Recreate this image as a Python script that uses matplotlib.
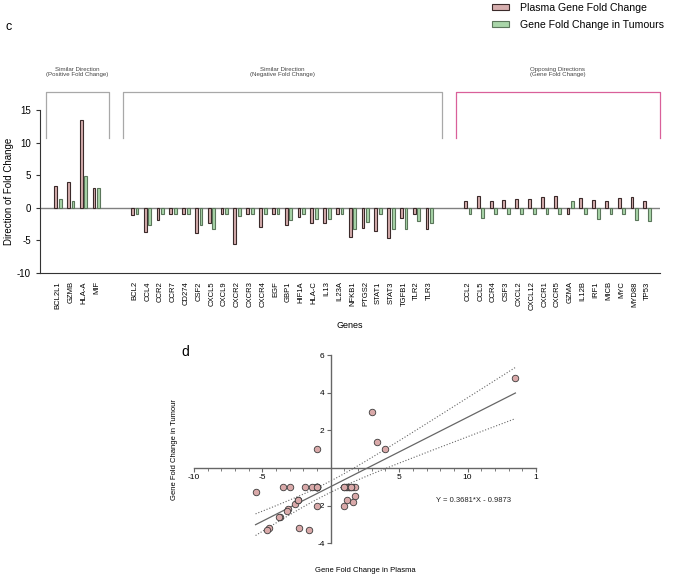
import numpy as np
import matplotlib
matplotlib.use('Agg')
import matplotlib.pyplot as plt

plt.rcParams['font.family'] = ['Liberation Sans', 'DejaVu Sans']
plt.rcParams['axes.unicode_minus'] = False

# Genes in each group
genes_pos = ['BCL2L1', 'GZMB', 'HLA-A', 'MIF']
genes_neg = ['BCL2', 'CCL4', 'CCR2', 'CCR7', 'CD274', 'CSF2', 'CXCL5', 'CXCL9',
             'CXCR2', 'CXCR3', 'CXCR4', 'EGF', 'GBP1', 'HIF1A', 'HLA-C', 'IL13',
             'IL23A', 'NFKB1', 'PTGS2', 'STAT1', 'STAT3', 'TGFB1', 'TLR2', 'TLR3']
genes_opp = ['CCL2', 'CCL5', 'CCR4', 'CSF3', 'CXCL2', 'CXCL12', 'CXCR1', 'CXCR5',
             'GZMA', 'IL12B', 'IRF1', 'MICB', 'MYC', 'MYD88', 'TP53']

# Fold changes (plasma / tumour)
plasma_pos = [3.4, 4.0, 13.5, 3.0]
tumour_pos = [1.4, 1.0, 4.8, 3.0]
plasma_neg = [-1.1, -3.7, -1.9, -1.0, -1.0, -3.8, -2.3, -1.0, -5.5, -1.0, -3.0, -1.0,
              -2.6, -1.4, -2.4, -2.4, -1.0, -4.5, -3.1, -3.5, -4.7, -1.6, -1.0, -3.2]
tumour_neg = [-1.0, -2.6, -1.0, -1.0, -1.0, -2.6, -3.2, -1.0, -1.3, -1.0, -1.0, -1.0,
              -1.9, -1.0, -1.7, -1.7, -1.0, -3.2, -2.2, -1.0, -3.3, -3.3, -2.0, -2.3]
plasma_opp = [1.1, 1.8, 1.0, 1.2, 1.3, 1.3, 1.6, 1.75, -1.0, 1.5, 1.2, 1.0, 1.5, 1.6, 1.0]
tumour_opp = [-1.0, -1.5, -1.0, -1.0, -1.0, -1.0, -1.0, -1.0, 1.0, -1.0, -1.7, -1.0,
              -1.0, -1.8, -2.0]

group_titles = ['Similar Direction\n(Positive Fold Change)',
                'Similar Direction\n(Negative Fold Change)',
                'Opposing Directions\n(Gene Fold Change)']

# regression reported on the figure
slope = 0.3681
intercept = -0.9873

pink = '#d6aeae'
pink_edge = '#3b2a2a'
green = '#a9d6a9'
green_edge = '#5b765b'

# x positions with gaps between groups
gap = 3
x_pos = np.arange(len(genes_pos))
x_neg = x_pos[-1] + gap + np.arange(len(genes_neg))
x_opp = x_neg[-1] + gap + np.arange(len(genes_opp))
xs = np.concatenate([x_pos, x_neg, x_opp])
genes = genes_pos + genes_neg + genes_opp
plasma = np.array(plasma_pos + plasma_neg + plasma_opp)
tumour = np.array(tumour_pos + tumour_neg + tumour_opp)

fig = plt.figure(figsize=(6.77, 5.74), dpi=100)

# ---- panel c: bar chart ----
ax1 = fig.add_axes([0.0591, 0.5244, 0.9159, 0.284])
w = 0.22
b1 = ax1.bar(xs - 0.19, plasma, w, color=pink, edgecolor=pink_edge, lw=0.8,
             label='Plasma Gene Fold Change', zorder=3)
b2 = ax1.bar(xs + 0.17, tumour, w, color=green, edgecolor=green_edge, lw=0.8,
             label='Gene Fold Change in Tumours', zorder=3)
ax1.axhline(0, color='#808080', lw=1, zorder=2)
ax1.set_xlim(-1.4, 47.0)
ax1.set_ylim(-10, 15)
ax1.set_yticks([-10, -5, 0, 5, 10, 15])
ax1.tick_params(axis='y', labelsize=7, length=3, width=0.8, color='#333333')
ax1.set_xticks(xs)
ax1.set_xticklabels(genes, rotation=90, fontsize=5.5)
ax1.tick_params(axis='x', length=0, pad=6)
for s in ['top', 'right']:
    ax1.spines[s].set_visible(False)
ax1.spines['left'].set_color('#333333')
ax1.spines['bottom'].set_color('#333333')
ax1.set_ylabel('Direction of Fold Change', fontsize=7, labelpad=2)
ax1.set_xlabel('Genes', fontsize=6.5, labelpad=8)

# brackets above groups
for grp, title, col in zip([x_pos, x_neg, x_opp], group_titles,
                           ['#a8a8a8', '#a8a8a8', '#d9609a']):
    left = grp[0] - 0.95
    right = grp[-1] + 1.0
    ax1.plot([left, left, right, right], [10.7, 17.8, 17.8, 10.7],
             color=col, lw=0.9, clip_on=False)
    ax1.text((left + right) / 2, 20.1, title, ha='center', va='bottom',
             fontsize=4.4, color='#444444', linespacing=1.0)

fig.legend(handles=[b1, b2], loc='upper left', bbox_to_anchor=(0.712, 1.012),
           frameon=False, fontsize=7.6, handlelength=1.7, handleheight=0.55,
           labelspacing=0.7, handletextpad=1.0)
fig.text(6 / 677, 1 - 27 / 574, 'c', fontsize=9, va='center')

# ---- panel d: scatter ----
ax2 = fig.add_axes([0.2866, 0.0535, 0.505, 0.328])
ax2.set_xlim(-10, 15)
ax2.set_ylim(-4, 6)
ax2.spines['left'].set_position('zero')
ax2.spines['bottom'].set_position('zero')
for s in ['top', 'right']:
    ax2.spines[s].set_visible(False)
for s in ['left', 'bottom']:
    ax2.spines[s].set_color('#666666')
    ax2.spines[s].set_linewidth(1.0)
ax2.set_xticks([-10, -5, 5, 10, 15])
ax2.set_xticklabels(['-10', '-5', '5', '10', '1'])
ax2.set_xticks(np.arange(-10, 16, 1), minor=True)
ax2.set_yticks([-4, -2, 2, 4, 6])
ax2.tick_params(axis='both', labelsize=6, length=3, width=0.8, color='#666666', pad=1.5)
ax2.tick_params(axis='x', which='minor', length=2, width=0.6, color='#666666')

# regression line and 95% confidence band
n = len(plasma)
xfit = np.linspace(plasma.min(), plasma.max(), 200)
yfit = slope * xfit + intercept
resid = tumour - (slope * plasma + intercept)
se = np.sqrt(np.sum(resid ** 2) / (n - 2))
sxx = np.sum((plasma - plasma.mean()) ** 2)
half = 2.02 * se * np.sqrt(1 / n + (xfit - plasma.mean()) ** 2 / sxx)
ax2.plot(xfit, yfit, color='#666666', lw=0.9, zorder=2)
ax2.plot(xfit, yfit + half, color='#666666', lw=0.8, ls=':', zorder=2)
ax2.plot(xfit, yfit - half, color='#666666', lw=0.8, ls=':', zorder=2)

ax2.scatter(plasma, tumour, s=22, color='#d9a9a9', edgecolors='#3b3b3b',
            linewidths=0.6, zorder=3, clip_on=False)
ax2.text(7.7, -1.75, 'Y = 0.3681*X - 0.9873', fontsize=5.5, va='center', color='#222222')

fig.text(181.7 / 677, 1 - 351.7 / 574, 'd', fontsize=10, va='center')
fig.text(175 / 677, 1 - 450 / 574, 'Gene Fold Change in Tumour', rotation=90,
         fontsize=5.5, ha='center', va='center')
fig.text(365 / 677, 1 - 570 / 574, 'Gene Fold Change in Plasma', fontsize=5.5,
         ha='center', va='center')

plt.savefig('out.png', dpi=100)
